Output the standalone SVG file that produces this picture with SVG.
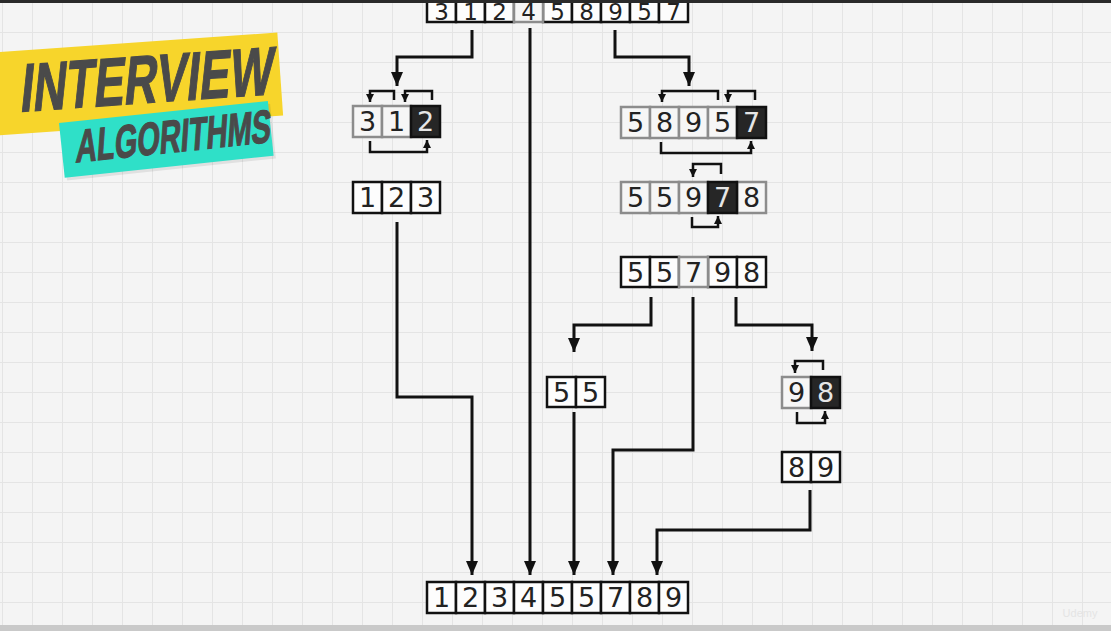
<svg xmlns="http://www.w3.org/2000/svg" width="1111" height="631" viewBox="0 0 1111 631">
<defs>
<pattern id="grid" x="2" y="2" width="30" height="30" patternUnits="userSpaceOnUse">
<path d="M0,0.5 H30 M0.5,0 V30" fill="none" stroke="#e4e4e4" stroke-width="1"/>
</pattern>
<marker id="ah" viewBox="0 0 14 12" refX="14" refY="6" markerWidth="14" markerHeight="12" markerUnits="userSpaceOnUse" orient="auto">
<path d="M0,0 L14,6 L0,12 z" fill="#111"/>
</marker>
<marker id="sh" viewBox="0 0 8 8" refX="8" refY="4" markerWidth="8" markerHeight="8" markerUnits="userSpaceOnUse" orient="auto">
<path d="M0,0 L8,4 L0,8 z" fill="#111"/>
</marker>
</defs>
<style>
.c{fill:#fdfdfd;stroke:#111;stroke-width:2.5}
.g{fill:#f6f6f6;stroke:#8c8c8c;stroke-width:2.5}
.k{fill:#262626;stroke:#111;stroke-width:2.5}
.t{font-family:"DejaVu Sans",sans-serif;font-size:27px;text-anchor:middle;fill:#222}
.tt{font-family:"DejaVu Sans",sans-serif;font-size:23px;text-anchor:middle;fill:#222}
.tw{font-family:"DejaVu Sans",sans-serif;font-size:27px;text-anchor:middle;fill:#e6e6e6}
.ln{fill:none;stroke:#111;stroke-width:3;marker-end:url(#ah)}
.br{fill:none;stroke:#111;stroke-width:2.5;marker-end:url(#sh)}
.ban{font-family:"Liberation Sans",sans-serif;font-weight:bold;fill:#4a4a4a;stroke:#4a4a4a;stroke-width:1.2}
</style>
<rect width="1111" height="631" fill="#f4f4f4"/>
<rect width="1111" height="631" fill="url(#grid)"/>
<rect y="625" width="1111" height="6" fill="#c9c9c9"/>
<text x="1080" y="617" font-family="Liberation Sans,sans-serif" font-size="11" fill="#e4e4e4" text-anchor="middle">Udemy</text>

<g id="banner">
<g transform="translate(0,52) rotate(-4)">
<rect x="-12" y="0" width="290" height="83" fill="#f7d52b"/>
<g transform="translate(15,61) skewX(-10)">
<text class="ban" x="0" y="0" font-size="68" textLength="253" lengthAdjust="spacingAndGlyphs">INTERVIEW</text>
</g>
</g>
<g transform="translate(59,123) rotate(-6)">
<rect x="2" y="3" width="210" height="55" fill="#000" opacity="0.08"/>
<rect x="0" y="0" width="210" height="55" fill="#2fe0c8"/>
<g transform="translate(12,41) skewX(-10)">
<text class="ban" x="0" y="0" font-size="46" textLength="196" lengthAdjust="spacingAndGlyphs">ALGORITHMS</text>
</g>
</g>
</g>

<g id="connectors">
<path class="ln" d="M472,30 V57 H397 V86"/>
<path class="ln" d="M530,28 V575"/>
<path class="ln" d="M615,30 V57 H689 V86"/>
<path class="ln" d="M397,222 V397 H472 V575"/>
<path class="ln" d="M651,297 V325 H574 V352"/>
<path class="ln" d="M693,297 V450 H613 V575"/>
<path class="ln" d="M736,297 V325 H812 V351"/>
<path class="ln" d="M574,412 V575"/>
<path class="ln" d="M810,490 V530 H657 V575"/>
<path class="br" d="M394,100 V91 H370 V102"/>
<path class="br" d="M432,100 V91 H405 V102"/>
<path class="br" d="M370,141 V152 H427 V140"/>
<path class="br" d="M718,100 V91 H662 V102"/>
<path class="br" d="M755,100 V91 H728 V102"/>
<path class="br" d="M661,142 V153 H751 V141"/>
<path class="br" d="M721,174 V164 H693 V177"/>
<path class="br" d="M692,217 V227 H718 V216"/>
<path class="br" d="M823,370 V361 H795 V373"/>
<path class="br" d="M797,412 V423 H825 V411"/>
</g>

<g id="top">
<rect class="c" x="427" y="-8" width="29" height="30"/><text class="tt" x="441.5" y="20">3</text>
<rect class="c" x="456" y="-8" width="29" height="30"/><text class="tt" x="470.5" y="20">1</text>
<rect class="c" x="485" y="-8" width="29" height="30"/><text class="tt" x="499.5" y="20">2</text>
<rect class="c" x="543" y="-8" width="29" height="30"/><text class="tt" x="557.5" y="20">5</text>
<rect class="c" x="572" y="-8" width="29" height="30"/><text class="tt" x="586.5" y="20">8</text>
<rect class="c" x="601" y="-8" width="29" height="30"/><text class="tt" x="615.5" y="20">9</text>
<rect class="c" x="630" y="-8" width="29" height="30"/><text class="tt" x="644.5" y="20">5</text>
<rect class="c" x="659" y="-8" width="29" height="30"/><text class="tt" x="673.5" y="20">7</text>
<rect class="g" x="514" y="-8" width="29" height="30"/><text class="tt" x="528.5" y="20">4</text>
</g>
<rect width="1111" height="3" fill="#2a2a2a"/>

<g id="n312">
<rect class="g" x="353" y="106" width="29" height="31"/><text class="t" x="367.5" y="131">3</text>
<rect class="g" x="382" y="106" width="29" height="31"/><text class="t" x="396.5" y="131">1</text>
<rect class="k" x="411" y="106" width="29" height="31"/><text class="tw" x="425.5" y="131">2</text>
</g>

<g id="n123">
<rect class="c" x="353" y="182" width="29" height="31"/><text class="t" x="367.5" y="207">1</text>
<rect class="c" x="382" y="182" width="29" height="31"/><text class="t" x="396.5" y="207">2</text>
<rect class="c" x="411" y="182" width="29" height="31"/><text class="t" x="425.5" y="207">3</text>
</g>

<g id="n58957">
<rect class="g" x="621" y="107" width="29" height="31"/><text class="t" x="635.5" y="132">5</text>
<rect class="g" x="650" y="107" width="29" height="31"/><text class="t" x="664.5" y="132">8</text>
<rect class="g" x="679" y="107" width="29" height="31"/><text class="t" x="693.5" y="132">9</text>
<rect class="g" x="708" y="107" width="29" height="31"/><text class="t" x="722.5" y="132">5</text>
<rect class="k" x="737" y="107" width="29" height="31"/><text class="tw" x="751.5" y="132">7</text>
</g>

<g id="n55978">
<rect class="g" x="621" y="182" width="29" height="31"/><text class="t" x="635.5" y="207">5</text>
<rect class="g" x="650" y="182" width="29" height="31"/><text class="t" x="664.5" y="207">5</text>
<rect class="g" x="679" y="182" width="29" height="31"/><text class="t" x="693.5" y="207">9</text>
<rect class="g" x="737" y="182" width="29" height="31"/><text class="t" x="751.5" y="207">8</text>
<rect class="k" x="708" y="182" width="29" height="31"/><text class="tw" x="722.5" y="207">7</text>
</g>

<g id="n55798">
<rect class="c" x="621" y="257" width="29" height="30"/><text class="t" x="635.5" y="282">5</text>
<rect class="c" x="650" y="257" width="29" height="30"/><text class="t" x="664.5" y="282">5</text>
<rect class="c" x="708" y="257" width="29" height="30"/><text class="t" x="722.5" y="282">9</text>
<rect class="c" x="737" y="257" width="29" height="30"/><text class="t" x="751.5" y="282">8</text>
<rect class="g" x="679" y="257" width="29" height="30"/><text class="t" x="693.5" y="282">7</text>
</g>

<g id="n55">
<rect class="c" x="547" y="377" width="29" height="30"/><text class="t" x="561.5" y="402">5</text>
<rect class="c" x="576" y="377" width="29" height="30"/><text class="t" x="590.5" y="402">5</text>
</g>

<g id="n98">
<rect class="g" x="782" y="377" width="29" height="31"/><text class="t" x="796.5" y="402">9</text>
<rect class="k" x="811" y="377" width="29" height="31"/><text class="tw" x="825.5" y="402">8</text>
</g>

<g id="n89">
<rect class="c" x="782" y="452" width="29" height="30"/><text class="t" x="796.5" y="477">8</text>
<rect class="c" x="811" y="452" width="29" height="30"/><text class="t" x="825.5" y="477">9</text>
</g>

<g id="bottom">
<rect class="c" x="427" y="582" width="29" height="31"/><text class="t" x="441.5" y="607">1</text>
<rect class="c" x="456" y="582" width="29" height="31"/><text class="t" x="470.5" y="607">2</text>
<rect class="c" x="485" y="582" width="29" height="31"/><text class="t" x="499.5" y="607">3</text>
<rect class="c" x="514" y="582" width="29" height="31"/><text class="t" x="528.5" y="607">4</text>
<rect class="c" x="543" y="582" width="29" height="31"/><text class="t" x="557.5" y="607">5</text>
<rect class="c" x="572" y="582" width="29" height="31"/><text class="t" x="586.5" y="607">5</text>
<rect class="c" x="601" y="582" width="29" height="31"/><text class="t" x="615.5" y="607">7</text>
<rect class="c" x="630" y="582" width="29" height="31"/><text class="t" x="644.5" y="607">8</text>
<rect class="c" x="659" y="582" width="29" height="31"/><text class="t" x="673.5" y="607">9</text>
</g>
</svg>
